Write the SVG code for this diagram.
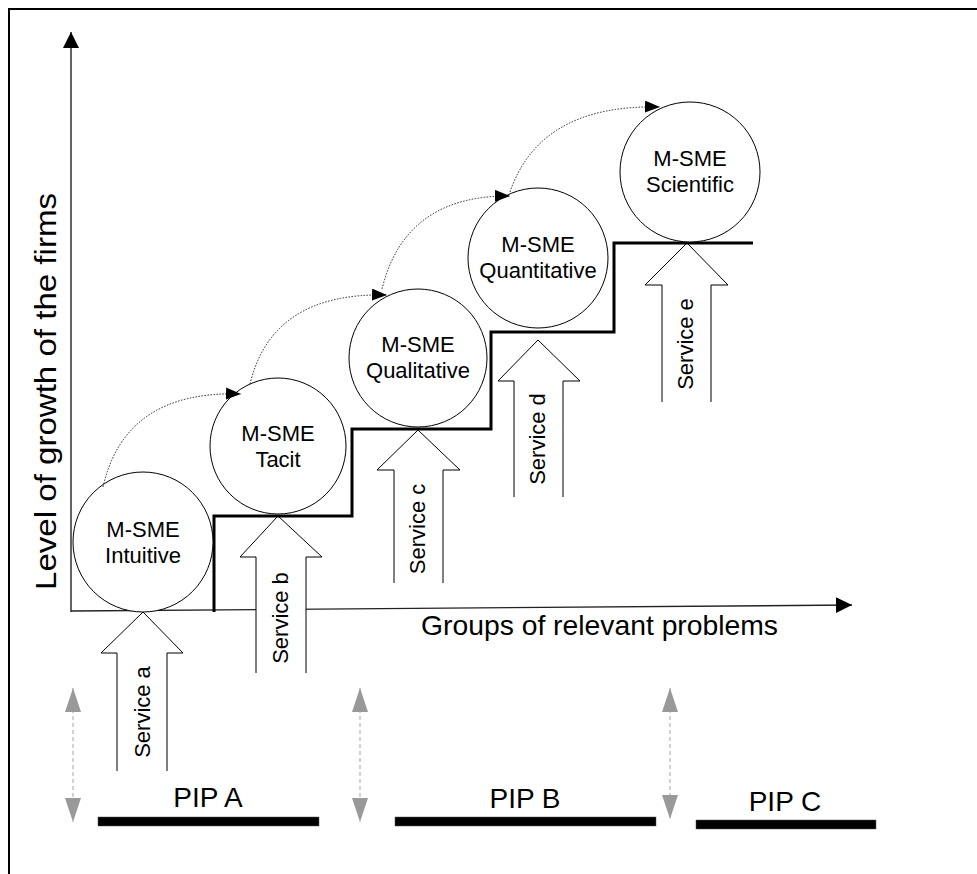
<svg xmlns="http://www.w3.org/2000/svg" width="977" height="874" viewBox="0 0 977 874">
<style>
text{font-family:"Liberation Sans",Arial,sans-serif;fill:#000}
.node circle{fill:#fff;stroke:#000;stroke-width:1}
.node text{font-size:22px;text-anchor:middle}
.svc path{fill:#fff;stroke:#000;stroke-width:1}
.svc text{font-size:22px;text-anchor:middle}
.dot{fill:none;stroke:#222;stroke-width:1;stroke-dasharray:1.5 1.5;marker-end:url(#ah)}
.gap{stroke:#c4c4c4;stroke-width:1.5;stroke-dasharray:4 3;marker-start:url(#gh);marker-end:url(#gh)}
.pip rect{fill:#000;stroke:#555;stroke-width:0.5}
.pip text{font-size:28px;text-anchor:middle}
.axis{fill:none;stroke:#222;stroke-width:1.4}
</style>
<defs>
<marker id="ah" markerUnits="userSpaceOnUse" markerWidth="16" markerHeight="14" refX="15" refY="6" orient="auto"><path d="M0,0 L15,6 L0,12 z" fill="#000"/></marker>
<marker id="axh" markerUnits="userSpaceOnUse" markerWidth="17" markerHeight="18" refX="16" refY="8" orient="auto"><path d="M0,0 L16,8 L0,16 z" fill="#000"/></marker>
<marker id="gh" markerUnits="userSpaceOnUse" markerWidth="25" markerHeight="18" refX="24" refY="8" orient="auto-start-reverse"><path d="M0,0 L24,8 L0,16 z" fill="#999"/></marker>
</defs>
<rect width="977" height="874" fill="#fff"/>
<path d="M9,874 V9 H977" fill="none" stroke="#000" stroke-width="2"/>
<g id="axes">
<path class="axis" d="M71,612 V32" marker-end="url(#axh)"/>
<path class="axis" d="M71,611 L852,605" marker-end="url(#axh)"/>
<text transform="translate(56,590) rotate(-90)" font-size="30" textLength="397" lengthAdjust="spacingAndGlyphs">Level of growth of the firms</text>
<text x="421" y="635" font-size="28" textLength="357" lengthAdjust="spacingAndGlyphs">Groups of relevant problems</text>
</g>
<g id="service-a" class="svc"><path d="M117,771 V653 H101 L143,612 L183,653 H167 V771"/><text transform="translate(150,712) rotate(-90)">Service a</text></g>
<g id="service-b" class="svc"><path d="M256,673 V557 H240 L278,516 L322,557 H306 V673"/><text transform="translate(288,618) rotate(-90)">Service b</text></g>
<g id="service-c" class="svc"><path d="M394,583 V470 H377 L418,430 L460,470 H443 V583"/><text transform="translate(425,529) rotate(-90)">Service c</text></g>
<g id="service-d" class="svc"><path d="M514,497 V381 H498 L538,340 L580,381 H563 V497"/><text transform="translate(545,439) rotate(-90)">Service d</text></g>
<g id="service-e" class="svc"><path d="M662,402 V285 H645 L687,243 L728,285 H711 V402"/><text transform="translate(693,344) rotate(-90)">Service e</text></g>
<g id="staircase"><polyline points="214,612 214,516 352,516 352,429 491,429 491,332 614,332 614,243 753,243" fill="none" stroke="#000" stroke-width="3"/></g>
<g id="intuitive" class="node"><circle cx="143" cy="542" r="70"/><text x="143" y="537">M-SME</text><text x="143" y="563">Intuitive</text></g>
<g id="tacit" class="node"><circle cx="278" cy="446" r="68"/><text x="278" y="441">M-SME</text><text x="278" y="467">Tacit</text></g>
<g id="qualitative" class="node"><circle cx="418" cy="358" r="69"/><text x="418" y="352">M-SME</text><text x="418" y="378">Qualitative</text></g>
<g id="quantitative" class="node"><circle cx="538" cy="258" r="70"/><text x="538" y="252">M-SME</text><text x="538" y="278">Quantitative</text></g>
<g id="scientific" class="node"><circle cx="690" cy="172" r="70"/><text x="690" y="166">M-SME</text><text x="690" y="192">Scientific</text></g>
<g id="connectors">
<path class="dot" d="M103,487 Q125,390 241,394"/>
<path class="dot" d="M250,384 Q272,292 387,295"/>
<path class="dot" d="M382,289 Q405,195 510,196"/>
<path class="dot" d="M510,192 Q540,104 660,107"/>
<line class="gap" x1="73" y1="688" x2="73" y2="822"/>
<line class="gap" x1="360" y1="688" x2="360" y2="822"/>
<line class="gap" x1="670" y1="688" x2="670" y2="819"/>
</g>
<g id="pip-a" class="pip"><rect x="98" y="817" width="221" height="9"/><text x="208" y="807">PIP A</text></g>
<g id="pip-b" class="pip"><rect x="395" y="817" width="261" height="9"/><text x="525" y="808">PIP B</text></g>
<g id="pip-c" class="pip"><rect x="696" y="820" width="180" height="9"/><text x="785" y="811">PIP C</text></g>
</svg>
